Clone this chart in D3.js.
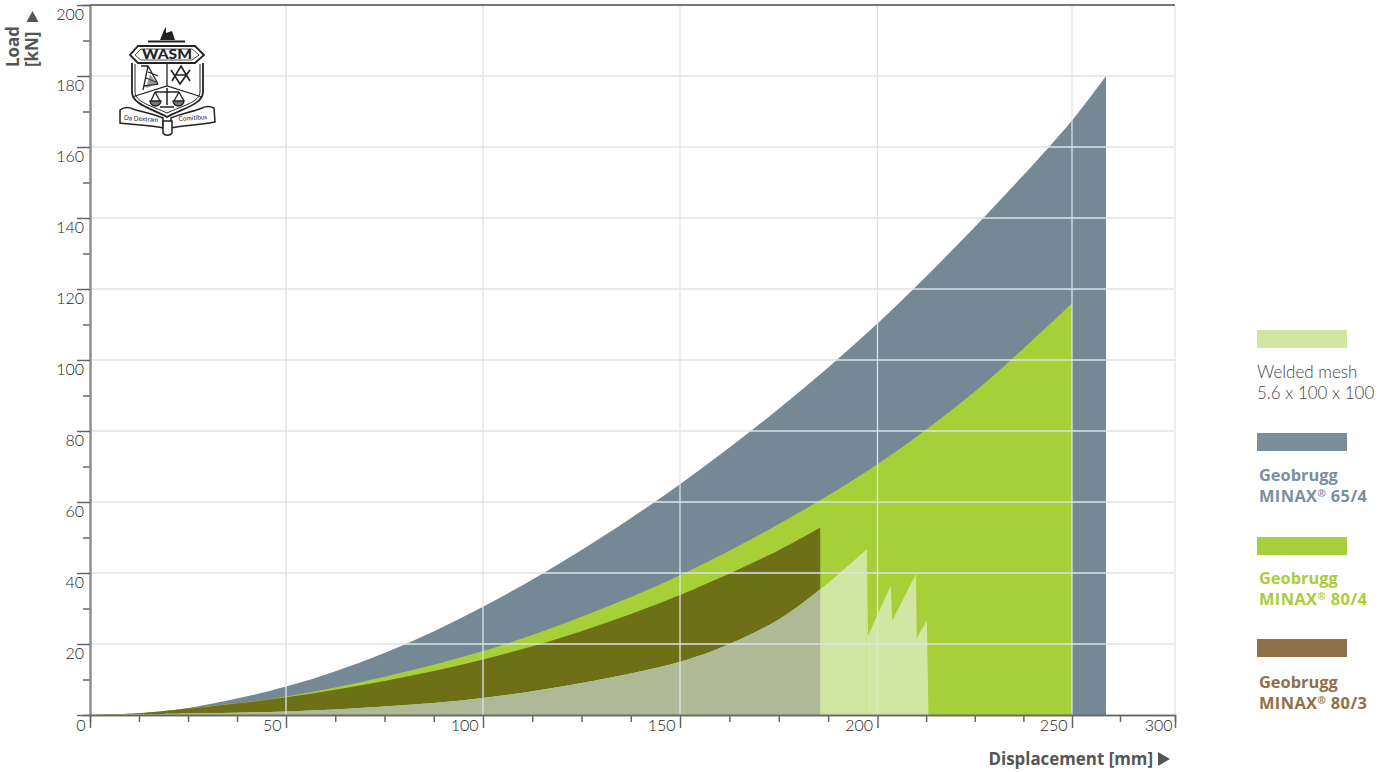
<!DOCTYPE html>
<html>
<head>
<meta charset="utf-8">
<script src="https://d3js.org/d3.v7.min.js"></script>
<style>
  html, body { margin: 0; padding: 0; background: #fff; }
  svg { display: block; }
  text { font-family: Lato, "Open Sans", sans-serif; }
  .tick-label { font-size: 16px; fill: #222; font-weight: 300; }
  .title { font-family: "Open Sans", sans-serif; font-weight: 700; fill: #555; font-size: 16.9px; }
</style>
</head>
<body>
<div class="chart"></div>
<script>
(function chart() {

  'use strict';

  // Displacement [mm] / load [kN]
  var gray = [[0, 0], [12.5, 0.5], [25, 2], [50, 8], [75, 17.5], [100, 30.5], [125, 46.5], [150, 65], [175, 86.3], [200, 110.3], [225, 137.5], [250, 167.5], [267.7, 180]];
  var green = [[0, 0], [12.5, 0.5], [25, 1.8], [50, 5.2], [75, 10.8], [100, 18], [125, 27.7], [150, 39.4], [175, 53.8], [200, 70.6], [225, 91.1], [250, 116]];
  var brown = [[0, 0], [12.5, 0.5], [25, 1.8], [50, 5], [75, 9.6], [100, 15.6], [125, 23.6], [150, 33.8], [175, 46.4], [185.5, 52.8]];
  var weldedCurve = [[0, 0], [25, 0.4], [50, 1], [75, 2.4], [100, 4.8], [125, 9], [150, 15], [162.5, 20], [175, 26.9], [185.5, 35.4], [197.3, 46.7]];
  var weldedTeeth = [[197.3, 46.7], [197.6, 22.3], [203.4, 36.5], [203.8, 26.6], [209.9, 39.7], [210.1, 21.6], [212.7, 26.7], [213.1, 0]];
  var brownEnd = 185.5;

  var xMajor = [50, 100, 150, 200, 250, 300];
  var xMinor = [12.5, 25, 37.5, 62.5, 75, 87.5, 112.5, 125, 137.5, 162.5, 175, 187.5, 212.5, 225, 237.5, 275];
  var yMajor = [20, 40, 60, 80, 100, 120, 140, 160, 180, 200];
  var yMinor = [10, 30, 50, 70, 90, 110, 130, 150, 170, 190];

  var legendItems = [
    { lines: ['Welded mesh', '5.6 x 100 x 100'], color: '#d1e6a2', text: '#444', bold: false },
    { lines: ['Geobrugg', 'MINAX', ' 65/4'], color: '#7a8e9b', text: '#7a8e9b', bold: true },
    { lines: ['Geobrugg', 'MINAX', ' 80/4'], color: '#a6cf3a', text: '#a6cf3a', bold: true },
    { lines: ['Geobrugg', 'MINAX', ' 80/3'], color: '#8f7048', text: '#8f7048', bold: true }
  ];

  var svg = d3.select('.chart').append('svg')
    .attr('width', 1391)
    .attr('height', 772);

  // The printed axis is not linear past 250 mm, so the scale is piecewise
  var x = d3.scaleLinear()
    .domain([0, 50, 100, 150, 200, 250, 275, 300])
    .range([90, 286, 483, 680, 877.5, 1072, 1120, 1175]);

  var y = d3.scaleLinear()
    .domain([0, 200])
    .range([715, 5]);

  var area = d3.area()
    .x(function (d) { return x(d[0]); })
    .y0(y(0))
    .y1(function (d) { return Math.min(y(d[1]), y(0)); })
    .curve(d3.curveCatmullRom.alpha(0.5));

  var jagged = d3.area()
    .x(function (d) { return x(d[0]); })
    .y0(y(0))
    .y1(function (d) { return y(d[1]); });

  svg.append('clipPath')
      .attr('id', 'under-brown')
    .append('rect')
      .attr('x', x(0))
      .attr('y', y(200))
      .attr('width', x(brownEnd) - x(0))
      .attr('height', y(0) - y(200));

  svg.append('path').attr('d', area(gray)).attr('fill', '#748995');
  svg.append('path').attr('d', area(green)).attr('fill', '#a6cf38');
  svg.append('path').attr('d', area(brown)).attr('fill', '#6e7018');
  svg.append('path').attr('d', area(weldedCurve)).attr('fill', '#d1e6a2');
  svg.append('path').attr('d', jagged(weldedTeeth)).attr('fill', '#d1e6a2');
  svg.append('path').attr('d', area(weldedCurve)).attr('fill', '#afb996').attr('clip-path', 'url(#under-brown)');

  // Grid sits on top of the areas
  var grid = svg.append('g')
    .attr('stroke', '#dbe3e8')
    .attr('stroke-width', 1.3);

  grid.selectAll('.h')
      .data(yMajor.slice(0, -1))
      .enter()
    .append('line')
      .attr('x1', x(0))
      .attr('x2', x(300))
      .attr('y1', function (d) { return y(d); })
      .attr('y2', function (d) { return y(d); });

  grid.selectAll('.v')
      .data(xMajor)
      .enter()
    .append('line')
      .attr('x1', function (d) { return x(d); })
      .attr('x2', function (d) { return x(d); })
      .attr('y1', y(200))
      .attr('y2', y(0));

  // Top edge of the plot
  svg.append('line')
    .attr('x1', x(0))
    .attr('x2', x(300))
    .attr('y1', y(200))
    .attr('y2', y(200))
    .attr('stroke', '#777')
    .attr('stroke-width', 1.8);

  // Axes
  var yAxisMinor = svg.append('g')
    .attr('transform', 'translate(' + x(0) + ',0)')
    .call(d3.axisLeft(y).tickValues(yMinor).tickSize(7).tickFormat(''));

  var yAxisMajor = svg.append('g')
    .attr('transform', 'translate(' + x(0) + ',0)')
    .call(d3.axisLeft(y).tickValues([0].concat(yMajor)).tickSize(13).tickSizeOuter(0));

  var xAxisMinor = svg.append('g')
    .attr('transform', 'translate(0,' + y(0) + ')')
    .call(d3.axisBottom(x).tickValues(xMinor).tickSize(7).tickFormat(''));

  var xAxisMajor = svg.append('g')
    .attr('transform', 'translate(0,' + y(0) + ')')
    .call(d3.axisBottom(x).tickValues([0].concat(xMajor)).tickSize(13).tickSizeOuter(0));

  [yAxisMinor, yAxisMajor, xAxisMinor, xAxisMajor].forEach(function (axis) {
    axis.attr('font-family', null).attr('font-size', null);
    axis.selectAll('path').attr('stroke', '#666').attr('stroke-width', 1.5);
    axis.selectAll('line').attr('stroke', '#666').attr('stroke-width', 1.5);
  });
  yAxisMajor.select('path').attr('stroke', '#888').attr('stroke-width', 2);

  yAxisMajor.selectAll('text')
    .attr('class', 'tick-label')
    .attr('x', -6)
    .attr('dy', 14.5)
    .attr('text-anchor', 'end');

  xAxisMajor.selectAll('text')
    .attr('class', 'tick-label')
    .attr('x', function (d) { return d === 300 ? -3 : -5; })
    .attr('y', 0)
    .attr('dy', 16)
    .attr('text-anchor', 'end');

  // y tick "0" is covered by the x axis' own zero label
  yAxisMajor.selectAll('.tick').filter(function (d) { return d === 0; }).select('text').remove();

  // Axis titles
  svg.append('text')
    .attr('class', 'title')
    .attr('transform', 'translate(19,67) rotate(-90)')
    .text('Load');

  svg.append('text')
    .attr('class', 'title')
    .attr('transform', 'translate(38,67) rotate(-90)')
    .text('[kN]');

  svg.append('path').attr('d', 'M32.5,11L38.5,22L26.5,22Z').attr('fill', '#555');

  svg.append('text')
    .attr('class', 'title')
    .attr('x', 1153)
    .attr('y', 765)
    .attr('text-anchor', 'end')
    .text('Displacement [mm]');

  svg.append('path').attr('d', 'M1158,752L1170,759L1158,766Z').attr('fill', '#555');

  // Legend
  var legendTop = [330, 433, 537, 639];
  var legendText = [48, 48, 47, 49];

  var legend = svg.selectAll('.legend')
      .data(legendItems)
      .enter()
    .append('g')
      .attr('class', 'legend')
      .attr('transform', function (d, i) {
        return 'translate(1257,' + legendTop[i] + ')';
      });

  legend.append('rect')
    .attr('width', 90)
    .attr('height', 18)
    .attr('fill', function (d) { return d.color; });

  legend.each(function (d, n) {
    var g = d3.select(this);
    if (!d.bold) {
      d.lines.forEach(function (l, i) {
        g.append('text')
          .attr('y', legendText[n] + i * 21)
          .attr('font-size', 17)
          .attr('font-weight', 300)
          .attr('fill', d.text)
          .text(l);
      });
      return;
    }
    g.append('text')
      .attr('x', 2)
      .attr('y', legendText[n])
      .attr('font-size', 16.4)
      .attr('font-weight', 700)
      .attr('fill', d.text)
      .style('font-family', '"Open Sans", sans-serif')
      .text(d.lines[0]);
    var second = g.append('text')
      .attr('x', 2)
      .attr('y', legendText[n] + 21)
      .attr('font-size', 16.4)
      .attr('font-weight', 700)
      .attr('letter-spacing', 0.4)
      .attr('fill', d.text)
      .style('font-family', '"Open Sans", sans-serif');
    second.append('tspan').text(d.lines[1]);
    second.append('tspan').attr('font-size', 10).attr('dy', -5).text('®');
    second.append('tspan').attr('dy', 5).text(d.lines[2]);
  });

  // WASM crest
  var crest = svg.append('g')
    .attr('fill', 'none')
    .attr('stroke', '#222')
    .attr('stroke-width', 1.3);

  // plane and bar on top
  crest.append('path').attr('d', 'M148,41.5H185').attr('stroke-width', 1.8);
  crest.append('path').attr('d', 'M160,40L164,30L166,27L166,33L172,31L175,40Z').attr('fill', '#222').attr('stroke', 'none');

  // shield
  crest.append('path')
    .attr('d', 'M132,63V92C132,104 150,108 167,117C184,108 203,104 203,92V63')
    .attr('stroke-width', 1.8)
    .attr('fill', '#fff');
  crest.append('path').attr('d', 'M135,64V92C135,102 152,106 167,113C182,106 200,102 200,92V64').attr('stroke-width', 1);
  crest.append('path').attr('d', 'M138,46H195L204,55L195,63H138L130,55Z').attr('stroke-width', 1.8).attr('fill', '#fff');
  crest.append('path').attr('d', 'M141,49H192L199,55L192,60H141L135,55Z').attr('stroke-width', 0.8);
  crest.append('path').attr('d', 'M167,63V86M132,97L167,86L202,97');

  // headframe
  crest.append('path').attr('d', 'M141,66H148L158,84M148,66L143,90M148,72L158,76M146,78L156,82M144,86L158,84');
  crest.append('path').attr('d', 'M150,74L157,84L146,88Z').attr('fill', '#555').attr('stroke', 'none').attr('opacity', 0.6);

  // square and compasses
  crest.append('path').attr('d', 'M171,70L180,84L190,70M172,81L181,66L190,81M175,75H186').attr('stroke-width', 1.6);

  // scales
  crest.append('path').attr('d', 'M155,92H179M167,88V105M160,107H174').attr('stroke-width', 1.5);
  crest.append('path').attr('d', 'M155,92L151,101M155,92L160,101M179,92L174,101M179,92L184,101');
  crest.append('path').attr('d', 'M150,101A5.5,5 0 0 0 161,101ZM173,101A5.5,5 0 0 0 184,101Z').attr('fill', '#777');

  // ribbon
  crest.append('path')
    .attr('d', 'M120,110C124,107 129,107 133,109C142,112 153,114 163,118V128C150,125 134,125 120,123Z')
    .attr('stroke-width', 1.5)
    .attr('fill', '#fff');
  crest.append('path')
    .attr('d', 'M214,108C210,106 206,106 202,108C192,112 180,114 171,118V128C184,125 200,125 215,122Z')
    .attr('stroke-width', 1.5)
    .attr('fill', '#fff');
  crest.append('path').attr('d', 'M163,121H172V133C170,136 165,136 163,133Z').attr('stroke-width', 1.5).attr('fill', '#fff');

  crest.append('text')
    .attr('x', 167)
    .attr('y', 59)
    .attr('text-anchor', 'middle')
    .attr('font-size', 13)
    .attr('font-weight', 900)
    .attr('textLength', 50)
    .attr('lengthAdjust', 'spacingAndGlyphs')
    .attr('stroke', 'none')
    .attr('fill', '#222')
    .text('WASM');

  crest.append('text')
    .attr('x', 141)
    .attr('y', 121)
    .attr('transform', 'rotate(4 141 121)')
    .attr('text-anchor', 'middle')
    .attr('font-size', 6.5)
    .attr('stroke', 'none')
    .attr('fill', '#222')
    .text('Da Dextram');

  crest.append('text')
    .attr('x', 193)
    .attr('y', 120)
    .attr('transform', 'rotate(-4 193 120)')
    .attr('text-anchor', 'middle')
    .attr('font-size', 6.5)
    .attr('stroke', 'none')
    .attr('fill', '#222')
    .text('Comitibus');
})();
</script>
</body>
</html>
